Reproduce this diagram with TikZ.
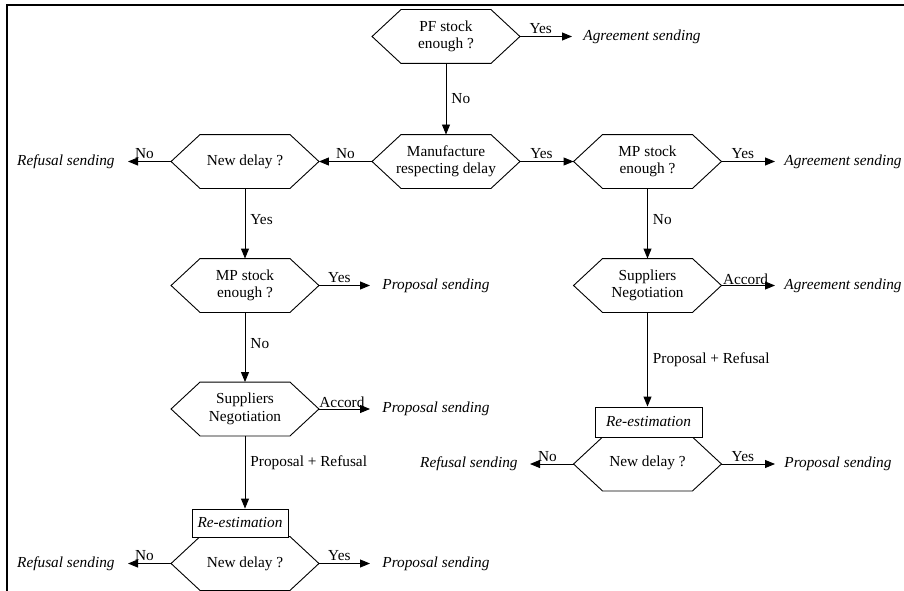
\documentclass[tikz,border=0pt]{standalone}
\usepackage{fontspec}
\setmainfont{Liberation Serif}
\usetikzlibrary{arrows.meta}
\begin{document}
\begin{tikzpicture}[x=1pt,y=-1pt,
  font=\fontsize{15.3}{17.5}\selectfont,
  line width=0.9pt,
  hexa/.style={minimum width=147pt, minimum height=53pt, inner sep=0pt, align=center},
  rebox/.style={draw, fill=white, inner sep=0pt, font=\fontsize{15.3}{17.5}\selectfont\itshape},
  outr/.style={anchor=west, inner xsep=10pt, inner ysep=0pt, font=\fontsize{15.3}{17.5}\selectfont\itshape},
  outl/.style={anchor=east, inner xsep=12pt, inner ysep=0pt, font=\fontsize{15.3}{17.5}\selectfont\itshape},
  arr/.style={-{Triangle[length=10pt,width=8pt]}},
  lab/.style={inner sep=2pt}
]
\useasboundingbox (0,0) rectangle (904,591);
\draw[line width=1.2pt] (904,5) -- (7,5) -- (7,591);

% decision nodes
\node[hexa] (pf)  at (446,36.5)  {PF stock\\enough ?};
\node[hexa] (man) at (446,161.5) {Manufacture\\respecting delay};
\node[hexa] (nd1) at (245,161.5) {\raisebox{3pt}{New delay ?}};
\node[hexa] (mp2) at (647.5,161.5) {MP stock\\enough ?};
\node[hexa] (mp1) at (245,285.5) {MP stock\\enough ?};
\node[hexa] (sn2) at (647.5,285.5) {Suppliers\\Negotiation};
\node[hexa] (sn1) at (245,409) {Suppliers\\Negotiation};
\node[hexa] (nd3) at (647.5,464) {\raisebox{5pt}{New delay ?}};
\node[hexa] (nd2) at (245,563.5) {\raisebox{1pt}{New delay ?}};

\foreach \n in {pf,man,nd1,mp2,mp1,sn2,sn1,nd3,nd2}
  \draw ([xshift=29pt]\n.north west) -- ([xshift=-29pt]\n.north east) -- (\n.east)
        -- ([xshift=-29pt]\n.south east) -- ([xshift=29pt]\n.south west) -- (\n.west) -- cycle;

% re-estimation boxes
\node[rebox, minimum width=107pt, minimum height=30pt] (re2) at (648.5,422) {Re-estimation};
\node[rebox, minimum width=96pt, minimum height=28pt] (re1) at (240,523) {Re-estimation};

% outcomes
\node[outr, inner xsep=11pt] (o1) at (572,36.5) {Agreement sending};
\node[outl, inner xsep=13pt] (o2) at (128,161.5) {Refusal sending};
\node[outr, inner xsep=9pt]  (o3) at (775,161.5) {Agreement sending};
\node[outr, inner xsep=12pt] (o4) at (370,285.5) {Proposal sending};
\node[outr, inner xsep=9pt]  (o5) at (775,285.5) {Agreement sending};
\node[outr, inner xsep=12pt] (o6) at (370,409) {Proposal sending};
\node[outl, inner xsep=12pt] (o7) at (530,464) {Refusal sending};
\node[outr, inner xsep=9pt]  (o8) at (775,464) {Proposal sending};
\node[outl, inner xsep=13pt] (o9) at (128,563.5) {Refusal sending};
\node[outr, inner xsep=12pt] (o10) at (370,563.5) {Proposal sending};

% connectors
\draw[arr] (pf.east) -- node[lab,above,pos=0.4] {Yes} (o1.west);
\draw[arr] (pf.south) -- node[lab,right,inner xsep=5pt] {No} (man.north);
\draw[arr] (man.west) -- node[lab,above,pos=0.5] {No} (nd1.east);
\draw[arr] (man.east) -- node[lab,above,pos=0.4] {Yes} (mp2.west);
\draw[arr] (nd1.west) -- node[lab,above,pos=0.62] {No} (o2.east);
\draw[arr] (nd1.south) -- node[lab,right,inner xsep=5pt,pos=0.45] {Yes} (mp1.north);
\draw[arr] (mp2.east) -- node[lab,above,pos=0.4] {Yes} (o3.west);
\draw[arr] (mp2.south) -- node[lab,right,inner xsep=5pt,pos=0.45] {No} (sn2.north);
\draw[arr] (mp1.east) -- node[lab,above,pos=0.4] {Yes} (o4.west);
\draw[arr] (mp1.south) -- node[lab,right,inner xsep=5pt,pos=0.45] {No} (sn1.north);
\draw[arr] (sn2.east) -- node[lab,above,pos=0.45,inner sep=0.5pt] {Accord} (o5.west);
\draw[arr] (sn1.east) -- node[lab,above,pos=0.45,inner sep=0.5pt] {Accord} (o6.west);
\draw[arr] (sn2.south) -- node[lab,right,inner xsep=5pt,pos=0.5] {Proposal + Refusal} (sn2.south |- re2.north);
\draw[arr] (sn1.south) -- node[lab,right,inner xsep=5pt,pos=0.37] {Proposal + Refusal} (sn1.south |- re1.north);
\draw[arr] (nd3.west) -- node[lab,above,pos=0.6] {No} (o7.east);
\draw[arr] (nd3.east) -- node[lab,above,pos=0.4] {Yes} (o8.west);
\draw[arr] (nd2.west) -- node[lab,above,pos=0.62] {No} (o9.east);
\draw[arr] (nd2.east) -- node[lab,above,pos=0.4] {Yes} (o10.west);
\end{tikzpicture}
\end{document}
